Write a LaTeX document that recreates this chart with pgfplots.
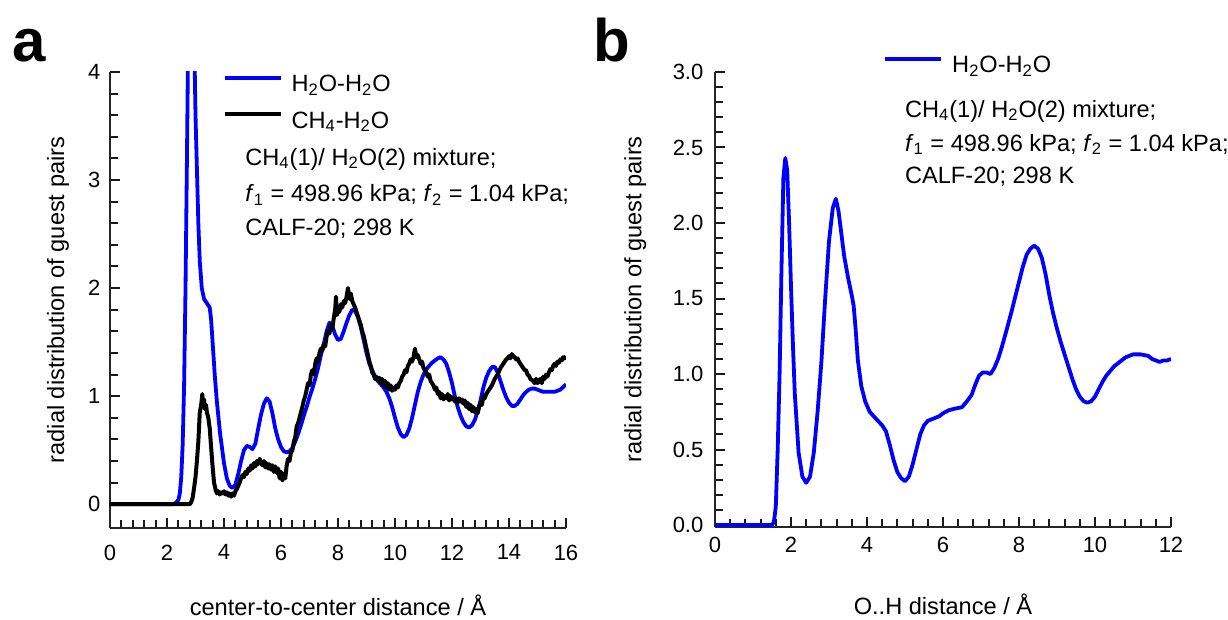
\documentclass[border=0pt]{standalone}
\usepackage{fontspec}
\setmainfont{Liberation Sans}
\usepackage{pgfplots}
\pgfplotsset{compat=1.18}

\pgfplotstableread{
x y
0 0
2.2 0
2.3 0.01
2.4 0.04
2.45 0.1
2.5 0.25
2.55 0.55
2.6 1.1
2.65 2.0
2.7 3.2
2.75 4.5
2.85 5.5
2.95 4.4
3.0 3.6
3.04 3.2
3.1 2.6
3.15 2.25
3.22 2.0
3.3 1.9
3.4 1.86
3.45 1.84
3.5 1.82
3.55 1.7
3.6 1.5
3.68 1.18
3.75 0.95
3.86 0.66
4.0 0.38
4.1 0.24
4.2 0.17
4.3 0.15
4.4 0.18
4.5 0.28
4.6 0.4
4.7 0.5
4.8 0.54
4.9 0.53
5.0 0.51
5.1 0.56
5.2 0.7
5.3 0.83
5.4 0.93
5.5 0.98
5.6 0.95
5.7 0.84
5.8 0.7
5.9 0.6
6.0 0.53
6.1 0.49
6.2 0.48
6.3 0.49
6.4 0.52
6.5 0.58
6.6 0.65
6.7 0.73
6.8 0.82
6.9 0.9
7.0 0.99
7.1 1.07
7.2 1.16
7.3 1.26
7.4 1.38
7.5 1.48
7.6 1.6
7.7 1.68
7.8 1.65
7.9 1.57
8.0 1.52
8.1 1.53
8.2 1.6
8.3 1.68
8.4 1.75
8.5 1.8
8.6 1.79
8.7 1.73
8.8 1.64
8.9 1.52
9.0 1.4
9.1 1.3
9.2 1.24
9.3 1.18
9.4 1.14
9.5 1.11
9.6 1.08
9.7 1.04
9.8 0.98
9.9 0.9
10.0 0.8
10.1 0.71
10.2 0.65
10.3 0.62
10.4 0.64
10.5 0.7
10.6 0.8
10.7 0.92
10.8 1.04
10.9 1.13
11.0 1.2
11.1 1.25
11.2 1.28
11.3 1.31
11.4 1.33
11.5 1.35
11.6 1.36
11.7 1.34
11.8 1.3
11.9 1.22
12.0 1.12
12.1 1.0
12.2 0.9
12.3 0.82
12.4 0.76
12.5 0.72
12.6 0.71
12.7 0.73
12.8 0.78
12.9 0.86
13.0 0.96
13.1 1.08
13.2 1.17
13.3 1.23
13.4 1.27
13.5 1.27
13.6 1.22
13.7 1.14
13.8 1.06
13.9 0.99
14.0 0.94
14.1 0.91
14.2 0.91
14.3 0.93
14.4 0.97
14.5 1.01
14.6 1.04
14.7 1.06
14.8 1.07
14.9 1.07
15.0 1.06
15.2 1.04
15.4 1.04
15.6 1.04
15.8 1.06
16.0 1.11
}\wwA

\pgfplotstableread{
x y
0 0
2.8 0
2.85 0.02
2.9 0.06
2.95 0.15
3.0 0.25
3.05 0.4
3.1 0.58
3.15 0.85
3.2 0.92
3.24 1.02
3.27 0.9
3.3 0.97
3.33 0.88
3.37 0.92
3.4 0.85
3.45 0.8
3.5 0.7
3.55 0.52
3.6 0.35
3.65 0.2
3.7 0.14
3.75 0.1
3.8 0.12
3.85 0.09
3.9 0.11
3.95 0.1
4.0 0.12
4.05 0.09
4.1 0.11
4.15 0.08
4.2 0.1
4.25 0.07
4.3 0.1
4.35 0.08
4.4 0.12
4.45 0.14
4.5 0.17
4.55 0.2
4.6 0.24
4.65 0.27
4.7 0.25
4.75 0.3
4.8 0.28
4.85 0.33
4.9 0.31
4.95 0.36
5.0 0.33
5.05 0.38
5.1 0.35
5.15 0.4
5.2 0.37
5.25 0.42
5.3 0.38
5.35 0.36
5.4 0.4
5.45 0.34
5.5 0.38
5.55 0.33
5.6 0.37
5.65 0.32
5.7 0.36
5.75 0.3
5.8 0.35
5.85 0.29
5.9 0.33
5.95 0.24
6.0 0.3
6.05 0.22
6.1 0.28
6.15 0.24
6.2 0.36
6.25 0.42
6.3 0.4
6.35 0.48
6.4 0.5
6.45 0.58
6.5 0.62
6.55 0.72
6.6 0.75
6.65 0.8
6.7 0.85
6.75 0.9
6.8 0.96
6.85 1.0
6.9 1.06
6.95 1.12
7.0 1.1
7.05 1.2
7.1 1.24
7.15 1.2
7.2 1.3
7.25 1.35
7.3 1.32
7.35 1.4
7.4 1.44
7.45 1.42
7.5 1.48
7.55 1.46
7.6 1.55
7.65 1.6
7.7 1.58
7.75 1.66
7.8 1.62
7.85 1.72
7.9 1.8
7.93 1.92
7.96 1.75
8.0 1.8
8.05 1.78
8.1 1.85
8.15 1.82
8.2 1.88
8.25 1.86
8.3 1.92
8.35 2.0
8.4 1.9
8.45 1.95
8.5 1.88
8.55 1.85
8.6 1.82
8.65 1.78
8.7 1.74
8.75 1.7
8.8 1.66
8.85 1.6
8.9 1.56
8.95 1.5
9.0 1.44
9.05 1.38
9.1 1.32
9.15 1.28
9.2 1.22
9.25 1.2
9.3 1.16
9.35 1.18
9.4 1.14
9.45 1.17
9.5 1.12
9.55 1.16
9.6 1.1
9.65 1.14
9.7 1.08
9.75 1.12
9.8 1.06
9.85 1.1
9.9 1.05
9.95 1.08
10.0 1.06
10.05 1.1
10.1 1.08
10.15 1.12
10.2 1.14
10.25 1.18
10.3 1.2
10.35 1.24
10.4 1.22
10.45 1.28
10.5 1.3
10.55 1.34
10.6 1.32
10.65 1.36
10.7 1.44
10.75 1.36
10.8 1.38
10.85 1.34
10.9 1.3
10.95 1.32
11.0 1.26
11.05 1.24
11.1 1.22
11.15 1.18
11.2 1.2
11.25 1.14
11.3 1.12
11.35 1.1
11.4 1.06
11.45 1.08
11.5 1.02
11.55 1.04
11.6 0.98
11.65 1.02
11.7 0.97
11.75 1.0
11.8 0.98
11.85 1.02
11.9 0.96
11.95 1.0
12.0 0.97
12.05 0.99
12.1 0.95
12.15 0.98
12.2 0.94
12.25 0.98
12.3 0.95
12.35 0.97
12.4 0.93
12.45 0.96
12.5 0.9
12.55 0.94
12.6 0.88
12.65 0.92
12.7 0.86
12.75 0.9
12.8 0.85
12.85 0.88
12.9 0.84
12.95 0.9
13.0 0.94
13.05 0.92
13.1 1.0
13.15 0.98
13.2 1.02
13.25 1.04
13.3 1.06
13.35 1.08
13.4 1.1
13.45 1.13
13.5 1.16
13.55 1.18
13.6 1.2
13.65 1.23
13.7 1.26
13.75 1.28
13.8 1.3
13.85 1.32
13.9 1.34
13.95 1.35
14.0 1.37
14.05 1.35
14.1 1.39
14.15 1.37
14.2 1.36
14.25 1.34
14.3 1.35
14.35 1.32
14.4 1.3
14.45 1.28
14.5 1.26
14.55 1.24
14.6 1.24
14.65 1.2
14.7 1.19
14.75 1.16
14.8 1.15
14.85 1.14
14.9 1.12
14.95 1.16
15.0 1.12
15.05 1.14
15.1 1.16
15.15 1.12
15.2 1.18
15.25 1.16
15.3 1.2
15.35 1.18
15.4 1.22
15.45 1.25
15.5 1.24
15.55 1.28
15.6 1.3
15.65 1.28
15.7 1.32
15.75 1.31
15.8 1.34
15.85 1.33
15.9 1.36
15.95 1.35
16.0 1.37
}\cwA

\pgfplotstableread{
x y
0 0
1.5 0
1.55 0.02
1.6 0.12
1.65 0.5
1.7 1.0
1.75 1.7
1.8 2.3
1.85 2.43
1.9 2.35
1.95 2.0
2.0 1.58
2.05 1.2
2.1 0.87
2.2 0.48
2.3 0.32
2.4 0.28
2.5 0.32
2.6 0.48
2.7 0.75
2.8 1.08
2.9 1.5
3.0 1.88
3.1 2.1
3.18 2.16
3.25 2.08
3.3 1.98
3.4 1.78
3.5 1.64
3.6 1.52
3.65 1.45
3.7 1.3
3.76 1.09
3.85 0.92
3.95 0.82
4.07 0.75
4.25 0.7
4.4 0.66
4.5 0.62
4.6 0.53
4.7 0.43
4.8 0.35
4.9 0.31
5.0 0.29
5.1 0.32
5.2 0.4
5.3 0.5
5.4 0.6
5.5 0.66
5.6 0.69
5.7 0.7
5.8 0.71
5.9 0.72
6.0 0.74
6.15 0.76
6.3 0.77
6.5 0.78
6.6 0.81
6.75 0.86
6.85 0.93
6.95 0.99
7.05 1.01
7.15 1.01
7.25 1.0
7.35 1.04
7.45 1.1
7.55 1.18
7.65 1.27
7.8 1.41
7.9 1.51
8.0 1.61
8.1 1.71
8.2 1.79
8.3 1.83
8.4 1.85
8.5 1.83
8.6 1.77
8.7 1.66
8.8 1.52
8.9 1.4
9.0 1.3
9.1 1.21
9.2 1.13
9.3 1.05
9.4 0.97
9.5 0.9
9.6 0.85
9.7 0.82
9.8 0.81
9.9 0.82
10.0 0.85
10.1 0.9
10.2 0.95
10.3 0.99
10.4 1.02
10.5 1.05
10.6 1.07
10.7 1.09
10.8 1.11
10.9 1.12
11.0 1.13
11.2 1.13
11.4 1.12
11.5 1.1
11.6 1.09
11.7 1.08
11.8 1.09
11.9 1.09
12.0 1.1
}\wwB

\tikzset{
  annot/.style={anchor=base west, font=\fontsize{11.8}{14}\selectfont, inner sep=0pt},
  panel/.style={anchor=base west, font=\fontsize{30}{32}\selectfont\bfseries, inner sep=0pt},
}
\pgfplotsset{
  rdf/.style={
    scale only axis,
    width=228pt, height=228pt,
    axis lines=left,
    axis line style={black!85, line width=0.6pt, -},
    tick align=inside,
    major tick length=5pt, minor tick length=3.8pt,
    major tick style={draw=black!90, line width=1pt},
    minor tick style={draw=black!90, line width=1pt},
    minor x tick num=4, minor y tick num=4,
    tick label style={font=\fontsize{11}{13}\selectfont},
    label style={font=\fontsize{11.8}{14}\selectfont},
    /pgf/number format/assume math mode=true,
    legend cell align=left,
    legend image code/.code={\draw[#1, line width=2pt] (0pt,3.6pt) -- (28pt,3.6pt);},
    legend style={draw=none, fill=none, inner sep=0pt, row sep=8.5pt,
      font=\fontsize{11.8}{14}\selectfont,
      nodes={inner sep=0pt}, column sep=4.5pt},
  },
}

\begin{document}
\begin{tikzpicture}
\useasboundingbox (-55pt,-46pt) rectangle (559pt,264pt);
\begin{axis}[rdf,
  at={(0pt,0pt)}, anchor=south west,
  xmin=0, xmax=16, ymin=-0.22, ymax=4,
  xtick={0,2,...,16}, ytick={0,1,2,3,4},
  xticklabel style={yshift=-4.8pt},
  yticklabel style={xshift=-1.3pt},
  xlabel={center-to-center distance / Å},
  ylabel={radial distribution of guest pairs},
  xlabel style={at={(axis description cs:0.5,-0.169)}, anchor=center},
  ylabel style={at={(axis description cs:-0.114,0.5)}, anchor=center},
  legend style={at={(axis description cs:0.246,0.994)}, anchor=north west},
  after end axis/.code={
    \node[annot] at (rel axis cs:0.296,0.796) {CH\textsubscript{4}(1)/ H\textsubscript{2}O(2) mixture;};
    \node[annot] at (rel axis cs:0.296,0.7156) {\textit{f}\textsubscript{1} = 498.96 kPa; \textit{f}\textsubscript{2} = 1.04 kPa;};
    \node[annot] at (rel axis cs:0.296,0.6425) {CALF-20; 298 K};
    \node[panel] at (rel axis cs:-0.215,1.022) {a};
  },
]
\addplot[blue, line width=1.9pt, line join=round] table {\wwA};
\addlegendentry{H\textsubscript{2}O-H\textsubscript{2}O}
\addplot[black, line width=2pt, line join=round] table {\cwA};
\addlegendentry{CH\textsubscript{4}-H\textsubscript{2}O}
\end{axis}

\begin{axis}[rdf,
  at={(302.5pt,0.5pt)}, anchor=south west,
  height=227.5pt,
  xmin=0, xmax=12, ymin=-0.013, ymax=3,
  xtick={0,2,...,12}, ytick={0,0.5,...,3},
  yticklabel style={xshift=-2.3pt, /pgf/number format/fixed, /pgf/number format/fixed zerofill, /pgf/number format/precision=1},
  xticklabel style={yshift=-1.7pt},
  xlabel={O..H distance / Å},
  ylabel={radial distribution of guest pairs},
  xlabel style={at={(axis description cs:0.5,-0.171)}, anchor=center},
  ylabel style={at={(axis description cs:-0.175,0.5)}, anchor=center},
  legend style={at={(axis description cs:0.368,1.035)}, anchor=north west},
  after end axis/.code={
    \node[annot] at (rel axis cs:0.416,0.901) {CH\textsubscript{4}(1)/ H\textsubscript{2}O(2) mixture;};
    \node[annot] at (rel axis cs:0.416,0.826) {\textit{f}\textsubscript{1} = 498.96 kPa; \textit{f}\textsubscript{2} = 1.04 kPa;};
    \node[annot] at (rel axis cs:0.416,0.756) {CALF-20; 298 K};
    \node[panel] at (rel axis cs:-0.267,1.022) {b};
  },
]
\addplot[blue, line width=1.9pt, line join=round] table {\wwB};
\addlegendentry{H\textsubscript{2}O-H\textsubscript{2}O}
\end{axis}
\end{tikzpicture}
\end{document}
